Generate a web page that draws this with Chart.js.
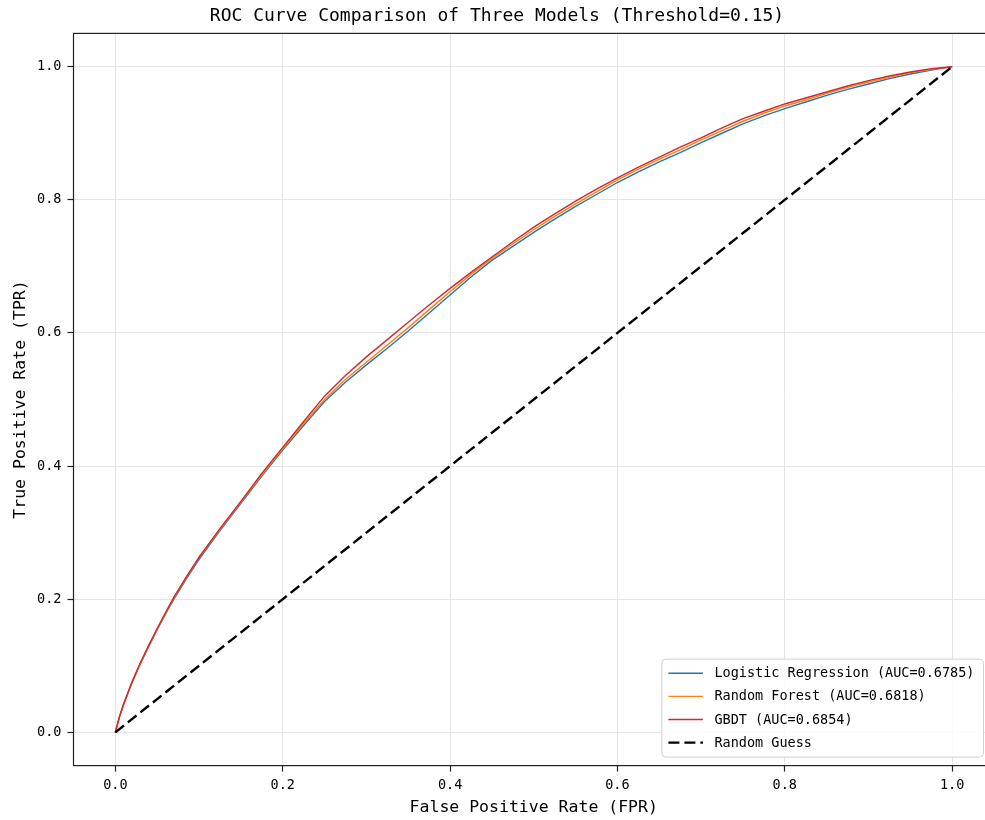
<!DOCTYPE html>
<html><head><meta charset="utf-8">
<script src="https://cdn.jsdelivr.net/npm/chart.js@4.4.1/dist/chart.umd.min.js"></script>
<style>html,body{margin:0;padding:0;overflow:hidden;background:#fff}#wrap{width:995px;height:820px}</style>
</head><body><div id="wrap"><canvas id="c" width="995" height="820"></canvas></div>
<script>
const chartTitle = 'ROC Curve Comparison of Three Models (Threshold=0.15)';
const xAxisLabel = 'False Positive Rate (FPR)';
const yAxisLabel = 'True Positive Rate (TPR)';
const tickValues = [0, 0.2, 0.4, 0.6, 0.8, 1.0];
const tickLabels = ['0.0', '0.2', '0.4', '0.6', '0.8', '1.0'];
const seriesLabels = ['Logistic Regression (AUC=0.6785)', 'Random Forest (AUC=0.6818)', 'GBDT (AUC=0.6854)', 'Random Guess'];
const fpr = [0, 0.005, 0.01, 0.02, 0.03, 0.04, 0.05, 0.06, 0.07, 0.085, 0.1, 0.125, 0.15, 0.175, 0.2, 0.225, 0.25, 0.275, 0.3, 0.325, 0.35, 0.375, 0.4, 0.425, 0.45, 0.475, 0.5, 0.525, 0.55, 0.575, 0.6, 0.625, 0.65, 0.675, 0.7, 0.725, 0.75, 0.775, 0.8, 0.825, 0.85, 0.875, 0.9, 0.925, 0.95, 0.975, 1.0];
const tprLogistic = [0, 0.023, 0.042, 0.075, 0.103, 0.129, 0.154, 0.178, 0.200, 0.231, 0.260, 0.303, 0.344, 0.385, 0.424, 0.461, 0.497, 0.526, 0.552, 0.577, 0.603, 0.630, 0.657, 0.684, 0.709, 0.730, 0.751, 0.771, 0.790, 0.808, 0.826, 0.842, 0.857, 0.871, 0.886, 0.900, 0.914, 0.926, 0.937, 0.947, 0.957, 0.966, 0.974, 0.982, 0.989, 0.995, 1.0];
const tprForest   = [0, 0.024, 0.043, 0.076, 0.104, 0.130, 0.155, 0.179, 0.202, 0.233, 0.262, 0.305, 0.346, 0.387, 0.426, 0.464, 0.500, 0.530, 0.556, 0.582, 0.608, 0.635, 0.662, 0.688, 0.712, 0.734, 0.755, 0.775, 0.794, 0.812, 0.830, 0.846, 0.861, 0.875, 0.890, 0.904, 0.918, 0.930, 0.941, 0.950, 0.960, 0.969, 0.977, 0.984, 0.991, 0.996, 1.0];
const tprGBDT     = [0, 0.024, 0.043, 0.076, 0.105, 0.131, 0.156, 0.180, 0.203, 0.234, 0.263, 0.306, 0.347, 0.389, 0.428, 0.467, 0.505, 0.536, 0.564, 0.590, 0.616, 0.642, 0.667, 0.691, 0.714, 0.737, 0.759, 0.779, 0.798, 0.816, 0.833, 0.849, 0.864, 0.879, 0.893, 0.908, 0.922, 0.933, 0.944, 0.953, 0.962, 0.971, 0.979, 0.986, 0.992, 0.997, 1.0];
const guessFpr = [0, 1];
const guessTpr = [0, 1];

const FONT = "'DejaVu Sans Mono', 'Liberation Mono', monospace";
const toPts = (xs, ys) => xs.map((x, i) => ({x: x, y: ys[i]}));

const spinePlugin = {
  id: 'spines',
  afterDatasetsDraw(chart) {
    const {ctx, chartArea: a} = chart;
    ctx.save();
    ctx.strokeStyle = '#222';
    ctx.lineWidth = 1.2;
    ctx.strokeRect(a.left, a.top, a.right - a.left, a.bottom - a.top);
    ctx.restore();
  }
};

const legendPlugin = {
  id: 'innerLegend',
  afterDraw(chart) {
    const {ctx, chartArea: a} = chart;
    const w = 321.6, h = 98;
    const x0 = a.right - 10.5 - w, y0 = a.bottom - 8.5 - h;
    ctx.save();
    ctx.beginPath();
    ctx.roundRect(x0, y0, w, h, 4);
    ctx.fillStyle = 'rgba(255,255,255,0.85)';
    ctx.fill();
    ctx.strokeStyle = '#d0d0d0';
    ctx.lineWidth = 1;
    ctx.stroke();
    ctx.font = '13.5px ' + FONT;
    ctx.textBaseline = 'middle';
    ctx.textAlign = 'left';
    chart.data.datasets.forEach((ds, i) => {
      const y = y0 + 14.2 + i * 23.1;
      ctx.beginPath();
      ctx.setLineDash(ds.borderDash || []);
      ctx.strokeStyle = ds.borderColor;
      ctx.lineWidth = ds.borderWidth;
      ctx.moveTo(x0 + 6.5, y);
      ctx.lineTo(x0 + 41, y);
      ctx.stroke();
      ctx.setLineDash([]);
      ctx.fillStyle = '#000';
      ctx.fillText(ds.label, x0 + 52.5, y + 0.5);
    });
    ctx.restore();
  }
};

const axisCommon = (label, padTop, padBottom) => ({
  type: 'linear',
  min: -0.05,
  max: 1.05,
  afterBuildTicks: s => { s.ticks = tickValues.map(v => ({value: v})); },
  ticks: {
    color: '#000',
    padding: 6,
    font: {family: FONT, size: 13.5},
    callback: (v) => { const i = tickValues.indexOf(v); return i >= 0 ? tickLabels[i] : ''; }
  },
  grid: {color: '#e5e5e5', lineWidth: 1, tickLength: 6, tickColor: '#222', tickWidth: 1.2},
  border: {display: false},
  title: {display: true, text: label, color: '#000', font: {family: FONT, size: 16.5}, padding: {top: padTop, bottom: padBottom}}
});

const xAxis = axisCommon(xAxisLabel, 0, 2);
xAxis.afterFit = s => { s.height = 54.4; };
const yAxis = axisCommon(yAxisLabel, 11, 0);
yAxis.afterFit = s => { s.width = 73.5; };

new Chart(document.getElementById('c'), {
  type: 'line',
  data: {
    datasets: [
      {label: seriesLabels[0], data: toPts(fpr, tprLogistic), borderColor: '#1f77b4', borderWidth: 1.4, pointRadius: 0, tension: 0, order: 3},
      {label: seriesLabels[1], data: toPts(fpr, tprForest), borderColor: '#ff7f0e', borderWidth: 1.4, pointRadius: 0, tension: 0, order: 2},
      {label: seriesLabels[2], data: toPts(fpr, tprGBDT), borderColor: '#d62728', borderWidth: 1.4, pointRadius: 0, tension: 0, order: 1},
      {label: seriesLabels[3], data: toPts(guessFpr, guessTpr), borderColor: '#000', borderWidth: 2.4, borderDash: [11, 5], pointRadius: 0, tension: 0, order: 0}
    ]
  },
  options: {
    responsive: false,
    animation: false,
    devicePixelRatio: 1,
    layout: {padding: {left: 0, right: 1, top: 0, bottom: 0}},
    scales: {x: xAxis, y: yAxis},
    plugins: {
      legend: {display: false},
      tooltip: {enabled: false},
      title: {display: true, text: chartTitle, color: '#000', font: {family: FONT, size: 18, weight: 'normal'}, padding: {top: 5.8, bottom: 6}}
    }
  },
  plugins: [spinePlugin, legendPlugin]
});
</script></body></html>
